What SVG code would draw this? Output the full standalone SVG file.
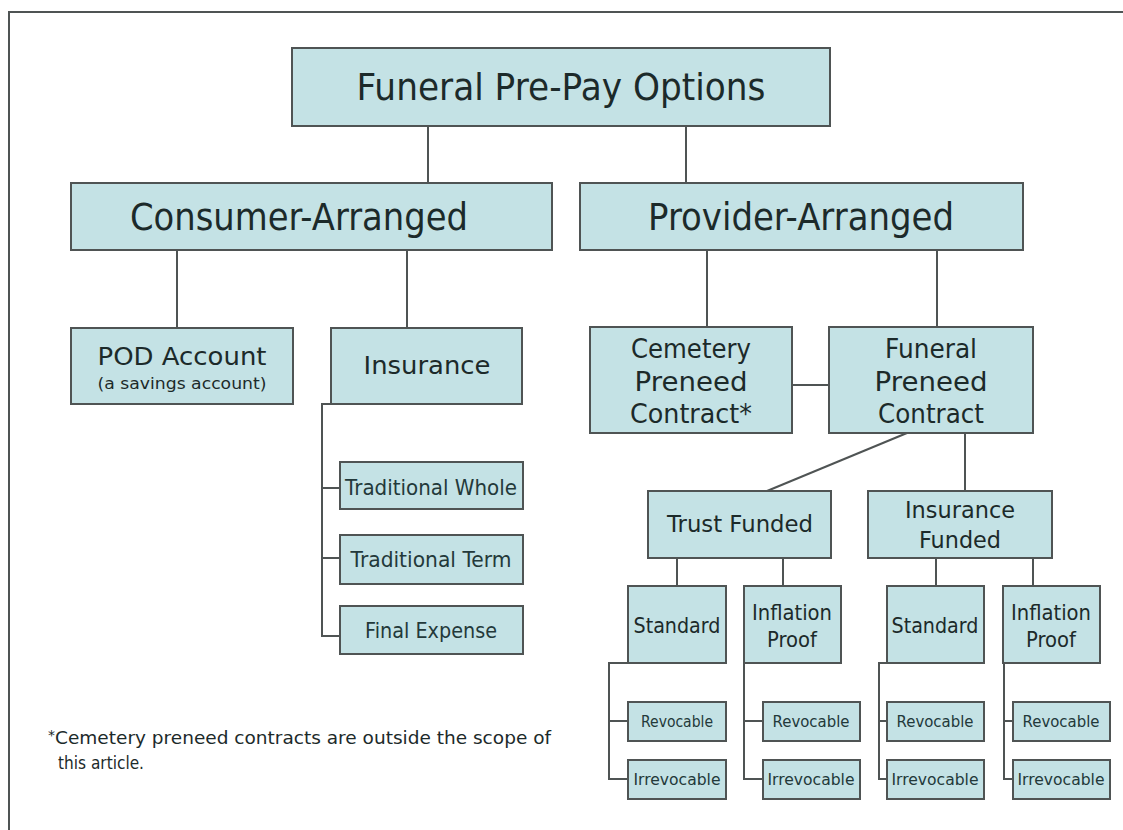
<svg xmlns="http://www.w3.org/2000/svg" width="1123" height="830" viewBox="0 0 1123 830">
  <style>
    .box { fill: #c4e2e5; stroke: #4f5454; stroke-width: 2; }
    .ln { fill: none; stroke: #4f5454; stroke-width: 2; }
    text { font-family: "DejaVu Sans", Verdana, sans-serif; fill: #1c2a2a; text-anchor: middle; }
    .small { fill: #23393a; }
    .foot { text-anchor: start; }
  </style>
  <rect x="0" y="0" width="1123" height="830" fill="#ffffff"/>
  <!-- page frame -->
  <path class="ln" d="M9 830 V12 H1123" stroke="#6a6a6a"/>

  <g id="connectors">
    <path class="ln" d="M428 126 V183 M686 126 V183"/>
    <path class="ln" d="M177 250 V328 M407 250 V328"/>
    <path class="ln" d="M707 250 V327 M937 250 V327"/>
    <path class="ln" d="M792 385 H829"/>
    <path class="ln" d="M907 433 L767 491"/>
    <path class="ln" d="M965 433 V491"/>
    <path class="ln" d="M677 558 V586 M783 558 V586 M936 558 V586 M1033 558 V586"/>
    <!-- insurance bracket -->
    <path class="ln" d="M331 404 H322 V636 H340 M322 488 H340 M322 558 H340"/>
    <!-- revocable brackets -->
    <path class="ln" d="M628 663 H609 V779 H628 M609 721 H628"/>
    <path class="ln" d="M744 663 V779 H763 M744 721 H763"/>
    <path class="ln" d="M887 663 H879 V779 H887 M879 721 H887"/>
    <path class="ln" d="M1004 663 V779 H1013 M1004 721 H1013"/>
  </g>

  <g id="root">
    <rect class="box" x="292" y="48" width="538" height="78"/>
    <text x="561" y="100" font-size="38" textLength="409" lengthAdjust="spacingAndGlyphs">Funeral Pre-Pay Options</text>
  </g>
  <g id="consumer">
    <rect class="box" x="71" y="183" width="481" height="67"/>
    <text x="299" y="230" font-size="37" textLength="338" lengthAdjust="spacingAndGlyphs">Consumer-Arranged</text>
  </g>
  <g id="provider">
    <rect class="box" x="580" y="183" width="443" height="67"/>
    <text x="801" y="230" font-size="37" textLength="306" lengthAdjust="spacingAndGlyphs">Provider-Arranged</text>
  </g>
  <g id="pod">
    <rect class="box" x="71" y="328" width="222" height="76"/>
    <text x="182" y="365" font-size="25" textLength="169" lengthAdjust="spacingAndGlyphs">POD Account</text>
    <text x="182" y="389" font-size="15" textLength="169" lengthAdjust="spacingAndGlyphs">(a savings account)</text>
  </g>
  <g id="insurance">
    <rect class="box" x="331" y="328" width="191" height="76"/>
    <text x="427" y="374" font-size="25" textLength="127" lengthAdjust="spacingAndGlyphs">Insurance</text>
  </g>
  <g id="cemetery">
    <rect class="box" x="590" y="327" width="202" height="106"/>
    <text x="691" y="358" font-size="26" textLength="120" lengthAdjust="spacingAndGlyphs">Cemetery</text>
    <text x="691" y="391" font-size="26" textLength="113" lengthAdjust="spacingAndGlyphs">Preneed</text>
    <text x="691" y="423" font-size="26" textLength="122" lengthAdjust="spacingAndGlyphs">Contract*</text>
  </g>
  <g id="funeral">
    <rect class="box" x="829" y="327" width="204" height="106"/>
    <text x="931" y="358" font-size="26" textLength="92" lengthAdjust="spacingAndGlyphs">Funeral</text>
    <text x="931" y="391" font-size="26" textLength="113" lengthAdjust="spacingAndGlyphs">Preneed</text>
    <text x="931" y="423" font-size="26" textLength="106" lengthAdjust="spacingAndGlyphs">Contract</text>
  </g>
  <g id="trust">
    <rect class="box" x="648" y="491" width="183" height="67"/>
    <text x="740" y="532" font-size="23" textLength="146" lengthAdjust="spacingAndGlyphs">Trust Funded</text>
  </g>
  <g id="ins-funded">
    <rect class="box" x="868" y="491" width="184" height="67"/>
    <text x="960" y="518" font-size="23" textLength="110" lengthAdjust="spacingAndGlyphs">Insurance</text>
    <text x="960" y="548" font-size="23" textLength="82" lengthAdjust="spacingAndGlyphs">Funded</text>
  </g>
  <g id="trad-whole">
    <rect class="box" x="340" y="462" width="183" height="47"/>
    <text class="small" x="431" y="495" font-size="21" textLength="172" lengthAdjust="spacingAndGlyphs">Traditional Whole</text>
  </g>
  <g id="trad-term">
    <rect class="box" x="340" y="535" width="183" height="49"/>
    <text class="small" x="431" y="567" font-size="21" textLength="161" lengthAdjust="spacingAndGlyphs">Traditional Term</text>
  </g>
  <g id="final-expense">
    <rect class="box" x="340" y="606" width="183" height="48"/>
    <text class="small" x="431" y="638" font-size="21" textLength="132" lengthAdjust="spacingAndGlyphs">Final Expense</text>
  </g>

  <g id="trust-standard">
    <rect class="box" x="628" y="586" width="98" height="77"/>
    <text x="677" y="633" font-size="21" textLength="87" lengthAdjust="spacingAndGlyphs">Standard</text>
  </g>
  <g id="trust-inflation">
    <rect class="box" x="744" y="586" width="97" height="77"/>
    <text x="792" y="620" font-size="21" textLength="80" lengthAdjust="spacingAndGlyphs">Inflation</text>
    <text x="792" y="647" font-size="21" textLength="50" lengthAdjust="spacingAndGlyphs">Proof</text>
  </g>
  <g id="ins-standard">
    <rect class="box" x="887" y="586" width="97" height="77"/>
    <text x="935" y="633" font-size="21" textLength="87" lengthAdjust="spacingAndGlyphs">Standard</text>
  </g>
  <g id="ins-inflation">
    <rect class="box" x="1003" y="586" width="97" height="77"/>
    <text x="1051" y="620" font-size="21" textLength="80" lengthAdjust="spacingAndGlyphs">Inflation</text>
    <text x="1051" y="647" font-size="21" textLength="50" lengthAdjust="spacingAndGlyphs">Proof</text>
  </g>

  <g id="rev-1">
    <rect class="box" x="628" y="702" width="98" height="39"/>
    <text class="small" x="677" y="727" font-size="15" textLength="72" lengthAdjust="spacingAndGlyphs">Revocable</text>
  </g>
  <g id="irr-1">
    <rect class="box" x="628" y="760" width="98" height="39"/>
    <text class="small" x="677" y="785" font-size="15" textLength="87" lengthAdjust="spacingAndGlyphs">Irrevocable</text>
  </g>
  <g id="rev-2">
    <rect class="box" x="763" y="702" width="97" height="39"/>
    <text class="small" x="811" y="727" font-size="15" textLength="77" lengthAdjust="spacingAndGlyphs">Revocable</text>
  </g>
  <g id="irr-2">
    <rect class="box" x="763" y="760" width="97" height="39"/>
    <text class="small" x="811" y="785" font-size="15" textLength="87" lengthAdjust="spacingAndGlyphs">Irrevocable</text>
  </g>
  <g id="rev-3">
    <rect class="box" x="887" y="702" width="97" height="39"/>
    <text class="small" x="935" y="727" font-size="15" textLength="77" lengthAdjust="spacingAndGlyphs">Revocable</text>
  </g>
  <g id="irr-3">
    <rect class="box" x="887" y="760" width="97" height="39"/>
    <text class="small" x="935" y="785" font-size="15" textLength="87" lengthAdjust="spacingAndGlyphs">Irrevocable</text>
  </g>
  <g id="rev-4">
    <rect class="box" x="1013" y="702" width="97" height="39"/>
    <text class="small" x="1061" y="727" font-size="15" textLength="77" lengthAdjust="spacingAndGlyphs">Revocable</text>
  </g>
  <g id="irr-4">
    <rect class="box" x="1013" y="760" width="97" height="39"/>
    <text class="small" x="1061" y="785" font-size="15" textLength="87" lengthAdjust="spacingAndGlyphs">Irrevocable</text>
  </g>

  <!-- footnote -->
  <text class="foot" x="48" y="744" font-size="17"><tspan font-size="14" dy="-4">*</tspan><tspan dy="4" textLength="496" lengthAdjust="spacingAndGlyphs">Cemetery preneed contracts are outside the scope of</tspan></text>
  <text class="foot" x="58" y="769" font-size="17" textLength="86" lengthAdjust="spacingAndGlyphs">this article.</text>
</svg>
